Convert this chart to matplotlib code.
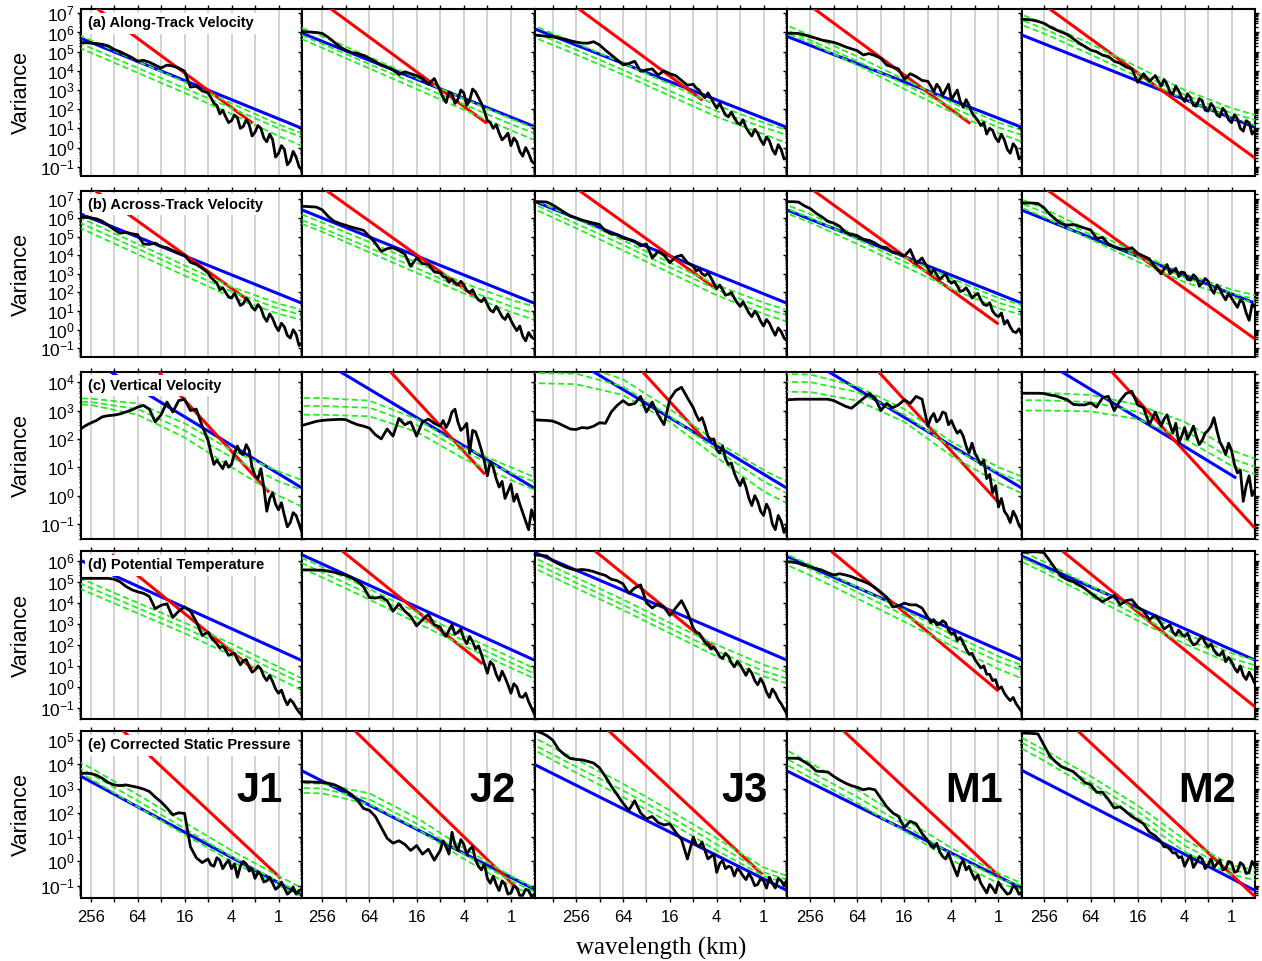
import numpy as np
import matplotlib
matplotlib.use("Agg")
import matplotlib.pyplot as plt
import matplotlib.transforms as mtransforms
from matplotlib.ticker import FixedLocator, LogFormatterSciNotation, NullFormatter, NullLocator

plt.rcParams["font.family"] = ["Liberation Sans", "DejaVu Sans"]
plt.rcParams["mathtext.fontset"] = "custom"
plt.rcParams["mathtext.rm"] = "Liberation Sans"
plt.rcParams["mathtext.it"] = "Liberation Sans:italic"
plt.rcParams["mathtext.bf"] = "Liberation Sans:bold"

cases = ["J1", "J2", "J3", "M1", "M2"]
titles = ["(a) Along-Track Velocity", "(b) Across-Track Velocity", "(c) Vertical Velocity",
          "(d) Potential Temperature", "(e) Corrected Static Pressure"]

# longest wavelength shown for each leg (km), all run down to 0.5 km
wl_max = [340, 465, 876, 508, 488]
wl_min = 0.5
# log10 variance range of each row
ylims = [(-1.47, 7.21), (-1.48, 7.46), (-1.53, 4.37), (-1.54, 6.46), (-1.52, 5.37)]

# spectra sampled every quarter octave from 1024 km to 8 km, then every eighth
# octave down to 0.5 km; each list is log10(variance) of the last len(list) samples
log2_wl = np.concatenate([np.arange(10, 3.1, -0.25), np.arange(3, -1.01, -0.125)])

spec_u = [
    [5.47, 5.47, 5.45, 5.42, 5.38, 5.3, 5.12, 5.0, 4.85, 4.7, 4.5, 4.55, 4.45, 4.3, 4.15, 4.3, 4.25, 4.15, 3.98, 3.15, 3.2, 2.95,
     2.85, 2.6, 2.3, 2.2, 1.75, 1.95, 1.6, 1.3, 1.4, 1.7, 1.55, 1.0, 1.1, 1.45, 1.2, 0.6, 0.8, 1.15, 1.0, 0.5, 0.3, 0.7,
     0.4, -0.5, -0.3, 0.1, -0.1, -0.9, -0.7, -0.2, -0.5, -1.0, -1.2],
    [6.04, 6.04, 6.02, 6.0, 5.95, 5.75, 5.5, 5.25, 5.08, 4.95, 4.9, 4.8, 4.65, 4.48, 4.3, 4.2, 4.05, 3.8, 3.95, 3.85, 3.75, 3.6, 3.3, 3.6,
     2.95, 2.6, 2.35, 2.9, 2.8, 2.3, 2.5, 3.0, 2.85, 2.2, 2.45, 3.05, 2.9, 2.6, 2.3, 1.9, 1.4, 1.3, 1.0, 1.2, 0.75, 0.4,
     0.55, 0.75, 0.1, 0.5, 0.3, -0.2, -0.45, 0.0, -0.3, -0.7, -0.85],
    [5.9, 5.87, 5.83, 5.8, 5.77, 5.72, 5.66, 5.57, 5.5, 5.45, 5.44, 5.52, 5.35, 5.08, 4.83, 4.58, 4.32, 4.38, 4.5, 3.98,
     4.05, 4.1, 3.78, 4.0, 3.85, 3.75, 3.5, 3.25,
     3.3, 3.1, 3.0, 2.75, 2.6, 2.85, 2.6, 2.3, 2.05, 2.3, 2.0, 1.7, 1.6, 1.85, 1.55, 1.3, 1.2, 1.45, 1.05, 0.8, 0.6, 0.95,
     0.75, 0.4, 0.15, 0.55, 0.35, -0.1, -0.35, 0.15, -0.1, -0.6, -0.55],
    [5.96, 5.96, 5.95, 5.88, 5.78, 5.7, 5.6, 5.55, 5.48, 5.38, 5.25, 5.15, 5.05, 4.83, 4.9, 4.8, 4.65, 4.3, 4.2, 4.1, 3.55, 3.85, 3.7, 3.5,
     3.45, 3.2, 2.9, 3.3, 3.1, 2.7, 3.0, 3.3, 2.5, 2.75, 3.0, 2.4, 2.1, 2.5, 2.2, 1.8, 1.6, 1.4, 1.15, 1.3, 0.7, 1.0,
     0.9, 0.5, 0.3, 0.7, 0.4, -0.1, -0.3, 0.2, 0.0, -0.6, -0.45],
    [6.69, 6.68, 6.65, 6.58, 6.48, 6.3, 6.15, 6.02, 5.9, 5.68, 5.45, 5.27, 5.08, 5.0, 4.82, 4.75, 4.5, 4.4, 4.2, 4.1, 3.4, 3.85, 3.45, 3.75,
     3.2, 3.55, 3.3, 2.9, 2.8, 3.2, 2.95, 2.6, 2.4, 2.8, 2.6, 2.2, 2.15, 2.55, 2.45, 1.95, 1.9, 2.3, 2.1, 1.7, 1.6, 2.05,
     1.85, 1.45, 1.3, 1.7, 1.5, 1.0, 0.85, 1.4, 1.3, 0.7, 0.9],
]
spec_v = [
    [6.03, 6.03, 6.0, 5.95, 5.82, 5.6, 5.38, 5.18, 5.22, 5.15, 5.1, 4.6, 4.58, 4.65, 4.46, 4.4, 4.25, 4.1, 4.0, 3.62, 3.5, 3.3,
     3.05, 2.8, 2.65, 2.5, 2.15, 2.25, 2.0, 1.75, 1.7, 1.95, 1.65, 1.3, 1.4, 1.7, 1.5, 1.2, 1.05, 1.35, 1.15, 0.7, 0.45, 0.85,
     0.6, 0.2, -0.05, 0.35, 0.15, -0.3, -0.45, 0.0, -0.25, -0.85, -0.7],
    [6.62, 6.62, 6.6, 6.58, 6.43, 6.08, 5.82, 5.7, 5.6, 5.5, 5.42, 5.33, 5.0, 4.65, 4.2, 4.35, 4.4, 4.25, 4.05, 3.4, 3.85, 3.55, 3.5, 3.1,
     3.05, 2.85, 2.8, 2.55, 2.7, 2.5, 2.4, 2.6, 2.4, 2.1, 2.0, 2.15, 1.8, 1.6, 1.5, 1.7, 1.35, 1.05, 0.95, 1.25, 1.0, 0.7,
     0.55, 0.85, 0.5, 0.2, -0.05, 0.2, -0.35, -0.6, -0.15, -0.4, -0.5],
    [6.87, 6.87, 6.87, 6.85, 6.7, 6.5, 6.3, 6.1, 6.0, 5.88, 5.8, 5.72, 5.65, 5.3, 5.15, 5.1, 4.92, 4.85, 4.75, 4.5,
     4.6, 3.85, 4.2, 4.0, 3.6, 3.9, 4.0, 3.6,
     3.4, 3.15, 3.25, 3.0, 2.9, 3.05, 2.8, 2.5, 2.2, 2.4, 2.15, 1.85, 1.9, 2.0, 1.7, 1.45, 1.25, 1.5, 1.2, 0.9, 0.7, 1.0,
     0.8, 0.45, 0.2, 0.55, 0.35, 0.0, -0.3, 0.1, -0.1, -0.45, -0.6],
    [6.87, 6.87, 6.85, 6.65, 6.5, 6.25, 6.05, 5.82, 5.72, 5.55, 5.22, 5.12, 5.05, 4.85, 4.8, 4.65, 4.45, 4.4, 4.15, 4.1, 3.95, 4.3, 3.55, 3.85,
     3.3, 3.0, 3.25, 2.95, 2.7, 2.85, 3.0, 2.65, 2.5, 2.6, 2.35, 2.05, 2.1, 2.25, 2.0, 1.7, 1.85, 1.95, 1.6, 1.35, 1.3, 1.45,
     1.0, 0.8, 0.7, 0.9, 0.3, 0.5, 0.15, -0.1, -0.15, 0.05, -0.3],
    [6.8, 6.8, 6.8, 6.77, 6.55, 6.2, 5.92, 5.7, 5.6, 5.65, 5.55, 5.45, 5.35, 4.9, 4.95, 4.6, 4.45, 4.35, 4.3, 4.4, 4.1, 3.95, 3.8, 3.35,
     3.0, 3.25, 3.5, 3.0, 3.15, 3.3, 2.85, 3.1, 3.05, 2.7, 2.65, 2.95, 2.8, 2.35, 2.5, 2.75, 2.6, 2.2, 1.95, 2.4, 2.2, 1.85,
     1.6, 1.95, 1.7, 1.45, 1.2, 1.6, 1.45, 0.9, 0.5, 1.35, 1.2],
]
spec_w = [
    [2.3, 2.45, 2.56, 2.65, 2.78, 2.82, 2.84, 2.88, 2.95, 3.02, 3.12, 3.18, 3.05, 2.6, 2.85, 3.3, 2.95, 3.35, 3.4, 3.0, 3.05, 2.45,
     1.95, 1.5, 1.1, 1.25, 1.1, 0.95, 1.2, 1.0, 1.1, 1.5, 1.75, 1.5, 1.45, 1.8, 1.6, 1.0, 0.7, 0.6, 0.95, 0.3, -0.55, -0.1,
     0.1, -0.3, -0.5, -0.25, -0.7, -1.1, -0.95, -0.6, -0.7, -1.0, -1.3],
    [2.45, 2.5, 2.56, 2.62, 2.65, 2.67, 2.68, 2.69, 2.68, 2.58, 2.5, 2.45, 2.38, 2.15, 2.0, 2.35, 2.1, 2.72, 2.5, 2.6, 2.1, 2.6, 2.7, 2.55,
     2.45, 2.65, 2.4, 2.6, 2.95, 3.05, 2.6, 2.3, 2.4, 2.55, 1.5, 2.3, 2.25, 1.95, 1.6, 1.2, 0.7, 1.2, 1.0, 0.6, 0.3, 0.5,
     -0.1, 0.15, 0.4, -0.2, 0.05, -0.3, -0.6, -0.9, -1.2, -0.5, -0.85],
    [2.67, 2.67, 2.66, 2.65, 2.63, 2.55, 2.45, 2.35, 2.33, 2.4, 2.38, 2.45, 2.57, 2.55, 2.95, 3.18, 3.35, 3.2, 3.25, 3.5,
     2.95, 3.3, 2.85, 2.5, 3.4, 3.7, 3.82, 3.45,
     3.1, 2.85, 2.65, 2.75, 2.45, 2.1, 1.95, 2.0, 1.62, 1.5, 1.75, 1.3, 1.1, 1.15, 0.8, 0.55, 0.35, 0.6, 0.3, -0.1, -0.35, 0.0,
     -0.2, -0.55, -0.7, -0.3, -0.5, -1.0, -1.2, -0.7, -0.9, -1.3, -1.05],
    [3.38, 3.39, 3.4, 3.4, 3.4, 3.4, 3.4, 3.4, 3.35, 3.25, 3.15, 3.08, 3.25, 3.42, 3.6, 3.45, 3.0, 3.25, 3.1, 3.2, 3.38, 3.25, 3.5, 3.4,
     2.45, 2.75, 2.9, 2.6, 2.7, 2.95, 2.9, 2.5, 2.65, 2.4, 2.2, 2.3, 2.1, 1.75, 1.5, 1.85, 1.5, 1.3, 1.1, 1.25, 0.6, 0.75,
     0.1, 0.35, -0.4, -0.1, -0.55, -0.7, -0.95, -0.55, -0.75, -1.05, -1.2],
    [3.61, 3.61, 3.61, 3.61, 3.6, 3.55, 3.52, 3.45, 3.38, 3.22, 3.2, 3.2, 3.27, 3.12, 3.45, 3.5, 3.0, 3.35, 3.6, 3.68, 3.2, 3.1, 2.5, 2.95,
     2.45, 2.7, 2.85, 2.5, 2.2, 2.55, 1.85, 2.1, 2.4, 2.0, 2.2, 2.45, 2.1, 1.8, 1.95, 2.2, 2.3, 2.45, 2.75, 2.3, 1.9, 1.7,
     1.45, 1.85, 1.6, 1.1, 0.8, 0.9, -0.2, 0.35, 0.7, 0.0, 0.2],
]
spec_th = [
    [5.16, 5.16, 5.16, 5.16, 5.16, 5.16, 5.12, 5.0, 4.78, 4.62, 4.52, 4.45, 4.3, 3.72, 3.88, 3.95, 3.3, 3.6, 3.8, 3.6, 3.1, 2.45,
     2.6, 2.35, 2.2, 2.05, 1.85, 1.95, 1.75, 1.5, 1.55, 1.6, 1.3, 1.05, 1.25, 1.3, 0.95, 0.7, 0.8, 1.0, 0.85, 0.5, 0.3, 0.55,
     0.25, -0.1, -0.3, -0.15, -0.55, -0.85, -0.6, -0.75, -1.0, -1.2, -1.35],
    [5.56, 5.56, 5.56, 5.55, 5.55, 5.5, 5.45, 5.38, 5.3, 5.18, 5.02, 4.75, 4.25, 4.22, 4.28, 4.1, 3.6, 3.95, 3.6, 3.35, 2.9, 3.2, 3.45, 2.95,
     2.85, 2.55, 2.4, 2.7, 2.95, 2.5, 2.6, 2.75, 2.3, 2.05, 2.4, 2.15, 1.8, 1.95, 1.55, 1.1, 0.65, 1.2, 1.05, 0.6, 0.3, 0.75,
     0.45, 0.1, -0.3, 0.15, 0.0, -0.45, -0.5, -0.3, -0.7, -1.0, -1.3],
    [6.28, 6.27, 6.25, 6.22, 6.0, 5.85, 5.72, 5.62, 5.55, 5.58, 5.55, 5.48, 5.38, 5.3, 5.12, 5.05, 4.9, 4.45, 4.7, 4.85,
     4.0, 3.75, 3.95, 3.8, 3.4, 3.75, 4.1, 3.55,
     2.8, 2.6, 2.55, 2.35, 2.1, 2.0, 1.8, 1.9, 1.7, 1.45, 1.35, 1.6, 1.45, 1.15, 0.95, 1.2, 1.05, 0.8, 0.55, 0.85, 0.65, 0.3,
     0.1, 0.4, 0.15, -0.25, -0.5, -0.1, -0.3, -0.6, -0.8, -1.05, -1.3],
    [5.95, 5.93, 5.88, 5.78, 5.71, 5.62, 5.55, 5.42, 5.32, 5.38, 5.32, 5.24, 5.12, 5.02, 4.9, 4.72, 4.5, 4.25, 3.8, 3.85, 3.98, 3.9, 3.9, 3.75,
     3.3, 3.05, 3.2, 2.95, 3.0, 3.15, 3.05, 2.7, 2.5, 2.6, 2.2, 2.35, 2.1, 1.8, 1.55, 1.6, 1.3, 1.1, 0.9, 1.0, 0.6, 0.6,
     0.3, 0.35, -0.1, 0.0, -0.3, -0.5, -0.65, -0.5, -0.8, -1.0, -1.2],
    [6.4, 6.4, 6.42, 6.42, 6.38, 6.0, 5.6, 5.25, 5.1, 5.0, 4.85, 4.68, 4.45, 4.25, 4.05, 4.2, 4.35, 3.9, 4.1, 4.15, 3.8, 3.6, 3.2, 3.4,
     3.0, 2.75, 2.85, 2.95, 2.6, 2.45, 2.7, 2.5, 2.4, 2.55, 2.2, 2.0, 2.05, 2.25, 2.4, 2.1, 1.9, 2.05, 1.75, 1.55, 1.5, 1.7,
     1.2, 1.4, 1.2, 0.9, 0.7, 1.0, 0.55, 0.35, 0.7, 0.45, 0.15],
]
spec_p = [
    [3.63, 3.63, 3.62, 3.55, 3.42, 3.25, 3.15, 3.12, 3.15, 3.1, 3.05, 2.98, 2.88, 2.65, 2.45, 2.2, 1.92, 2.0, 1.98, 0.6, 0.15, -0.05,
     0.1, -0.15, -0.2, 0.15, 0.05, -0.3, -0.1, 0.05, -0.3, -0.1, -0.65, -0.2, 0.0, -0.1, -0.4, -0.3, -0.7, -0.45, -0.55, -0.85,
     -0.8, -0.65, -0.9, -1.15, -1.05, -0.85, -1.1, -1.35, -1.25, -1.05, -1.35, -1.2, -1.15],
    [3.28, 3.28, 3.27, 3.26, 3.25, 3.22, 3.16, 3.05, 2.9, 2.75, 2.5, 2.18, 2.1, 1.85, 1.4, 0.95, 0.75, 0.85, 0.7, 0.45, 0.65, 0.3, 0.5, 0.05,
     0.45, 0.85, 0.6, 0.3, 1.2, 0.7, 0.45, 0.9, 0.7, 0.3, 0.5, 0.6, 0.05, -0.2, -0.35, -0.1, -0.7, -0.9, -0.6, -0.95, -1.2, -0.8,
     -0.95, -1.35, -1.3, -1.0, -1.1, -1.4, -1.4, -1.15, -1.2, -1.45, -1.35],
    [5.4, 5.38, 5.3, 5.18, 5.0, 4.62, 4.4, 4.24, 4.2, 4.18, 4.12, 4.05, 3.85, 3.5, 3.1, 2.75, 2.4, 2.1, 2.5, 2.0,
     1.75, 1.85, 1.6, 1.5, 1.55, 1.2, 0.9, 0.1,
     1.0, 0.7, 0.6, 0.8, 0.45, 0.1, 0.2, 0.3, -0.45, -0.1, 0.05, -0.3, -0.2, -0.25, -0.6, -0.3, -0.4, -0.6, -0.75, -0.5, -0.7, -1.0,
     -0.95, -0.7, -0.8, -1.1, -0.65, -0.9, -1.1, -0.7, -0.8, -1.0, -0.75],
    [4.25, 4.25, 4.24, 4.1, 3.95, 3.72, 3.7, 3.68, 3.5, 3.35, 3.22, 3.12, 3.05, 2.95, 3.0, 2.95, 2.6, 2.25, 2.0, 1.85, 1.4, 1.65, 1.55, 1.15,
     0.85, 0.65, 0.55, 0.75, 0.4, 0.2, 0.1, 0.35, 0.0, -0.3, -0.6, -0.15, 0.05, -0.35, -0.2, -0.5, -0.75, -0.55, -0.9, -1.1, -1.3, -0.95,
     -1.1, -1.3, -0.85, -1.05, -1.2, -1.35, -1.3, -1.0, -1.1, -1.35, -1.25],
    [5.28, 5.28, 5.27, 5.25, 4.8, 4.35, 4.1, 3.9, 3.8, 3.7, 3.48, 3.25, 3.15, 2.85, 2.85, 2.55, 2.2, 2.25, 2.05, 1.85, 1.7, 1.55, 1.2, 1.05,
     0.8, 0.6, 0.6, 0.5, 0.35, 0.35, 0.15, 0.2, -0.2, 0.05, 0.25, -0.25, -0.05, 0.2, 0.1, -0.3, -0.15, 0.1, -0.25, -0.1, 0.05, -0.35,
     -0.3, 0.0, -0.05, -0.45, -0.4, -0.05, -0.15, -0.5, -0.45, 0.0, -0.2],
]

# reference lines: (log2 km, log10 var) at each end
red_u = [(8.0, 7.50, 1.1, 1.27), (8.0, 7.56, 1.02, 1.26), (8.0, 7.34, 2.6, 2.46), (8.0, 7.39, 1.2, 1.25), (8.0, 7.45, -1.0, -0.55)]
red_v = [(8.0, 7.64, 1.3, 1.59), (8.0, 7.63, 1.6, 1.85), (8.0, 7.59, 2.0, 2.17), (8.0, 7.6, 0.0, 0.3), (8.0, 7.63, -1.0, -0.5)]
red_w = [(5.1, 4.36, 0.4, 0.12), (5.2, 4.45, 1.1, 0.75), (5.2, 4.4, 2.6, 2.05), (5.2, 4.46, 0.0, -0.24), (5.2, 4.45, -1.0, -1.15)]
red_th = [(7.1, 6.29, 1.1, 0.87), (7.2, 6.5, 1.2, 1.09), (7.2, 6.47, 2.1, 1.86), (7.1, 6.44, 0.0, -0.2), (7.2, 6.45, -1.0, -0.95)]
red_p = [(7.0, 5.72, -0.1, -0.7), (6.8, 5.55, -0.35, -1.2), (6.8, 5.55, 0.05, -0.54), (6.8, 5.57, -0.05, -0.63), (6.8, 5.6, -1.0, -1.45)]

blue_u = [(8.5, 5.74, -1.0, 1.0), (9.0, 6.03, -1.0, 1.09), (10.0, 6.3, -1.0, 1.05), (9.0, 5.8, -1.0, 1.05), (9.0, 5.9, -1.0, 1.05)]
blue_v = [(8.5, 6.25, -1.0, 1.42), (9.0, 6.5, -1.0, 1.42), (10.0, 7.0, -1.0, 1.42), (9.0, 6.43, -1.0, 1.42), (9.0, 6.45, -1.0, 1.42)]
blue_w = [(7.3, 4.44, -1.0, 0.27), (7.3, 4.4, -1.0, 0.26), (7.3, 4.39, -1.0, 0.26), (7.3, 4.41, -1.0, 0.26), (7.3, 4.4, -0.2, 0.62)]
blue_th = [(8.5, 6.05, -1.0, 1.25), (9.0, 6.35, -1.0, 1.27), (10.0, 6.5, -1.0, 1.27), (9.0, 6.2, -1.0, 1.27), (9.0, 6.25, -1.0, 1.27)]
blue_p = [(8.5, 3.55, -1.0, -1.4), (9.0, 3.8, -1.0, -1.15), (10.0, 4.1, -1.0, -1.2), (9.0, 3.73, -1.0, -1.11), (9.0, 3.78, -1.0, -1.2)]

# model spectra, log10 variance at these log2 wavelengths
green_knots = np.array([10, 8, 6, 4, 2, 0, -1])
grn_u = [
    [[6.7, 5.6, 4.5, 3.42, 2.3, 1.2, 0.74], [6.3, 5.2, 4.15, 3.1, 2.05, 1.0, 0.53], [6.05, 4.95, 3.9, 2.85, 1.75, 0.6, 0.08]],
    [[6.82, 5.8, 4.72, 3.62, 2.55, 1.5, 1.0], [6.45, 5.4, 4.35, 3.3, 2.25, 1.22, 0.74], [6.25, 5.2, 4.12, 3.05, 1.97, 0.9, 0.39]],
    [[6.45, 5.45, 4.4, 3.3, 2.2, 1.3, 0.91], [6.1, 5.1, 4.05, 2.95, 1.9, 1.05, 0.65], [5.85, 4.85, 3.8, 2.7, 1.6, 0.7, 0.22]],
    [[6.9, 5.85, 4.75, 3.55, 2.35, 1.3, 0.91], [6.65, 5.6, 4.5, 3.3, 2.1, 1.05, 0.65], [6.5, 5.45, 4.3, 3.05, 1.85, 0.75, 0.3]],
    [[7.4, 6.5, 5.4, 4.2, 3.0, 2.05, 1.7], [7.15, 6.2, 5.1, 3.9, 2.75, 1.8, 1.43], [6.9, 5.95, 4.85, 3.7, 2.5, 1.55, 1.17]],
]
grn_v = [
    [[6.9, 5.75, 4.6, 3.45, 2.3, 1.4, 1.06], [6.6, 5.48, 4.35, 3.2, 2.05, 1.13, 0.79], [6.35, 5.2, 4.05, 2.9, 1.75, 0.85, 0.52]],
    [[6.75, 5.75, 4.7, 3.6, 2.5, 1.6, 1.24], [6.45, 5.45, 4.4, 3.3, 2.2, 1.25, 0.88], [6.25, 5.25, 4.15, 3.05, 1.95, 0.95, 0.52]],
    [[7.1, 5.95, 4.8, 3.6, 2.4, 1.45, 1.06], [6.85, 5.7, 4.55, 3.35, 2.15, 1.15, 0.79], [6.6, 5.45, 4.25, 3.05, 1.85, 0.85, 0.43]],
    [[7.2, 6.2, 5.05, 3.9, 2.75, 1.7, 1.33], [7.0, 6.0, 4.85, 3.65, 2.5, 1.45, 1.06], [6.75, 5.75, 4.6, 3.4, 2.2, 1.15, 0.79]],
    [[7.55, 6.5, 5.3, 4.1, 3.0, 2.15, 1.85], [7.3, 6.3, 5.1, 3.9, 2.8, 1.95, 1.65], [7.1, 6.05, 4.85, 3.65, 2.55, 1.75, 1.45]],
]
grn_w = [
    [[3.45, 3.42, 3.25, 2.55, 1.6, 0.85, 0.55], [3.35, 3.3, 3.05, 2.3, 1.35, 0.5, 0.2], [3.3, 3.2, 2.85, 2.05, 1.0, 0.0, -0.39]],
    [[3.45, 3.44, 3.35, 2.7, 1.7, 1.0, 0.65], [3.17, 3.16, 3.1, 2.5, 1.55, 0.8, 0.49], [2.86, 2.85, 2.8, 2.25, 1.3, 0.55, 0.2]],
    [[4.7, 4.65, 4.1, 3.05, 1.9, 0.9, 0.49], [4.33, 4.3, 3.85, 2.8, 1.6, 0.5, 0.08], [3.97, 3.93, 3.55, 2.6, 1.35, 0.15, -0.27]],
    [[4.3, 4.27, 3.85, 3.05, 1.9, 1.0, 0.67], [4.03, 4.0, 3.65, 2.85, 1.7, 0.8, 0.49], [3.68, 3.65, 3.35, 2.6, 1.4, 0.45, 0.08]],
    [[3.62, 3.62, 3.55, 3.2, 2.6, 1.6, 1.3], [3.37, 3.36, 3.3, 2.95, 2.3, 1.3, 1.02], [3.0, 3.0, 2.97, 2.7, 2.0, 1.05, 0.75]],
]
grn_th = [
    [[5.9, 4.95, 4.0, 3.05, 2.05, 0.95, 0.4], [5.65, 4.7, 3.75, 2.8, 1.8, 0.7, 0.16], [5.4, 4.45, 3.5, 2.55, 1.5, 0.4, -0.16]],
    [[6.7, 5.7, 4.65, 3.55, 2.45, 1.4, 0.87], [6.45, 5.45, 4.4, 3.3, 2.2, 1.15, 0.63], [6.2, 5.2, 4.15, 3.05, 1.95, 0.9, 0.4]],
    [[6.25, 5.2, 4.15, 3.05, 2.0, 1.05, 0.71], [6.0, 4.95, 3.9, 2.8, 1.7, 0.75, 0.4], [5.75, 4.7, 3.65, 2.55, 1.45, 0.5, 0.16]],
    [[6.8, 5.8, 4.75, 3.65, 2.5, 1.45, 1.03], [6.6, 5.6, 4.5, 3.4, 2.25, 1.2, 0.79], [6.3, 5.3, 4.2, 3.1, 1.95, 0.85, 0.4]],
    [[7.0, 5.95, 4.8, 3.65, 2.55, 1.6, 1.27], [6.7, 5.65, 4.5, 3.4, 2.3, 1.35, 1.03], [6.5, 5.45, 4.3, 3.15, 2.05, 1.1, 0.8]],
]
grn_p = [
    [[4.9, 3.85, 2.75, 1.6, 0.45, -0.6, -1.1], [4.65, 3.6, 2.5, 1.35, 0.2, -0.85, -1.3], [4.45, 3.4, 2.25, 1.1, 0.0, -1.0, -1.45]],
    [[3.25, 3.2, 2.8, 1.8, 0.55, -0.6, -1.1], [3.05, 3.0, 2.55, 1.55, 0.3, -0.8, -1.25], [2.85, 2.8, 2.35, 1.35, 0.1, -1.0, -1.4]],
    [[5.2, 4.2, 3.2, 2.1, 0.95, -0.25, -0.6], [4.9, 3.9, 2.92, 1.85, 0.7, -0.45, -0.75], [4.7, 3.65, 2.65, 1.6, 0.45, -0.6, -0.9]],
    [[5.1, 4.05, 2.95, 1.75, 0.55, -0.5, -0.9], [4.75, 3.7, 2.65, 1.5, 0.3, -0.7, -1.0], [4.5, 3.45, 2.4, 1.25, 0.05, -0.9, -1.15]],
    [[5.65, 4.6, 3.5, 2.3, 0.9, -0.15, -0.36], [5.45, 4.4, 3.25, 2.05, 0.65, -0.35, -0.56], [5.2, 4.15, 3.0, 1.8, 0.4, -0.55, -0.77]],
]

spectra = [spec_u, spec_v, spec_w, spec_th, spec_p]
reds = [red_u, red_v, red_w, red_th, red_p]
blues = [blue_u, blue_v, blue_w, blue_th, blue_p]
greens = [grn_u, grn_v, grn_w, grn_th, grn_p]

W, H = 1262, 961
col_px = [81, 302, 534.5, 787, 1022, 1255]
row_px = [(9.3, 175.7), (190.7, 357.3), (371.7, 539.0), (551.0, 719.3), (731.0, 898.3)]
oct_ticks = [2.0 ** n for n in range(9, -1, -1)]
oct_labels = [str(int(t)) if t in (256, 64, 16, 4, 1) else "" for t in oct_ticks]

fig = plt.figure(figsize=(W / 100, H / 100), dpi=100)

for r in range(5):
    y0, y1 = row_px[r]
    lo, hi = ylims[r]
    decades = np.arange(int(np.ceil(lo)), int(np.floor(hi)) + 1)
    minors = [k * 10.0 ** d for d in range(int(np.floor(lo)), int(np.ceil(hi)))
              for k in range(2, 10) if lo <= np.log10(k * 10.0 ** d) <= hi]
    for c in range(5):
        x0, x1 = col_px[c], col_px[c + 1]
        ax = fig.add_axes([x0 / W, 1 - y1 / H, (x1 - x0) / W, (y1 - y0) / H])
        ax.set_xscale("log", base=2)
        ax.set_yscale("log")
        ticks_in = [t for t in oct_ticks if t <= wl_max[c]]
        ax.set_xticks(ticks_in, [oct_labels[oct_ticks.index(t)] for t in ticks_in])
        ax.xaxis.set_minor_locator(NullLocator())
        ax.set_xlim(wl_max[c], wl_min)
        ax.set_ylim(10.0 ** lo, 10.0 ** hi)
        ax.yaxis.set_major_locator(FixedLocator(10.0 ** decades))
        ax.yaxis.set_minor_locator(FixedLocator(minors))
        ax.yaxis.set_major_formatter(LogFormatterSciNotation())
        ax.yaxis.set_minor_formatter(NullFormatter())
        ax.set_axisbelow(True)
        ax.grid(True, axis="x", which="major", color="#c6c6c6", lw=1.1)

        ax.tick_params(axis="x", which="major", direction="out", top=True, bottom=(r == 4),
                       labeltop=False, labelbottom=(r == 4), length=3.2, width=1.0,
                       labelsize=12, pad=5)
        ax.tick_params(axis="y", which="both", direction="out", left=True, right=True,
                       labelleft=(c == 0), labelright=False, width=1.0, labelsize=12.5, pad=1.2)
        ax.tick_params(axis="y", which="major", length=3.2)
        ax.tick_params(axis="y", which="minor", length=1.8)
        for sp in ax.spines.values():
            sp.set_linewidth(1.5)

        for g in greens[r][c]:
            ax.plot(2.0 ** green_knots, 10.0 ** np.array(g), color="#22ee22", lw=1.3,
                    ls=(0, (3.5, 1.8)), zorder=4)
        e0, l0, e1, l1 = blues[r][c]
        ax.plot([2.0 ** e0, 2.0 ** e1], [10.0 ** l0, 10.0 ** l1], color="#0000ff", lw=2.2,
                solid_capstyle="butt", zorder=3)
        e0, l0, e1, l1 = reds[r][c]
        ax.plot([2.0 ** e0, 2.0 ** e1], [10.0 ** l0, 10.0 ** l1], color="#ff0000", lw=2.2,
                solid_capstyle="butt", zorder=3)
        vals = np.array(spectra[r][c])
        e = log2_wl[-len(vals):]
        ax.plot(2.0 ** e, 10.0 ** vals, color="black", lw=2.0, zorder=5)

        if c == 0:
            ax.text(0.032, 0.916, titles[r], transform=ax.transAxes, fontsize=10.5,
                    fontweight="bold", ha="left", va="center", zorder=10,
                    bbox=dict(facecolor="white", edgecolor="none", pad=2.5))
        if r == 4:
            tr = mtransforms.blended_transform_factory(ax.transData, ax.transAxes)
            ax.text(0.88, 0.64, cases[c], transform=tr, fontsize=30, fontweight="bold",
                    ha="right", va="center", zorder=10)

    fig.text(21 / W, 1 - (y0 + y1) / 2 / H, "Variance", rotation=90, ha="center",
             va="center", fontsize=15.5)

fig.text(661 / W, 1 - 948 / H, "wavelength (km)", ha="center", va="center", fontsize=18,
         family=["Liberation Serif", "DejaVu Serif"])

fig.savefig("out.png", dpi=100)
